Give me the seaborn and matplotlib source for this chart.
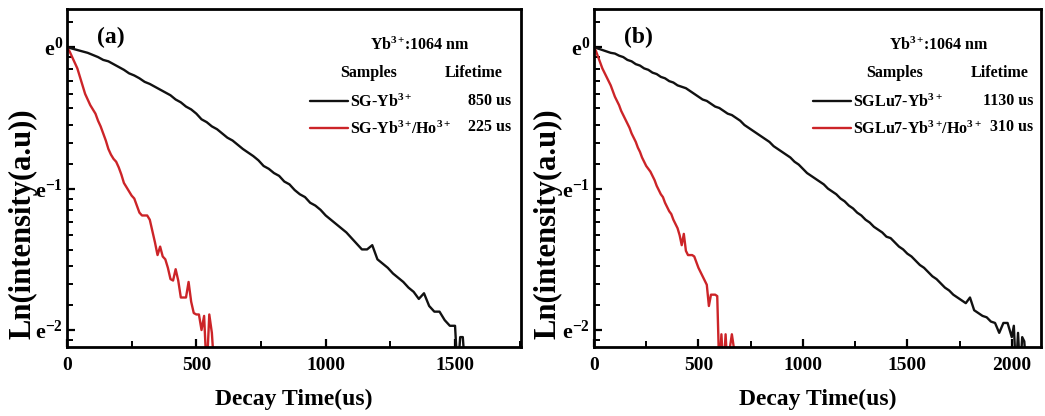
import numpy as np
import pandas as pd
import matplotlib
matplotlib.use("Agg")
import matplotlib.pyplot as plt
from matplotlib.ticker import FixedLocator
import seaborn as sns

# ---------------- data (ln of normalised intensity) ----------------
t_a_black = [0, 20, 40, 60, 80, 100, 120, 140, 160, 180, 200, 220, 240, 260, 280, 300,
             320, 340, 360, 380, 400, 420, 440, 460, 480, 500, 520, 540, 560, 580, 600,
             620, 640, 660, 680, 700, 720, 740, 760, 780, 800, 820, 840, 860, 880, 900,
             920, 940, 960, 980, 1000, 1020, 1040, 1060, 1080, 1100, 1120, 1140, 1160,
             1180, 1200, 1220, 1240, 1260, 1280, 1300, 1320, 1340, 1360, 1380, 1400,
             1420, 1440, 1460, 1480, 1500, 1510, 1520, 1530, 1540]
y_a_black = [0.00, -0.01, -0.02, -0.03, -0.04, -0.055, -0.07, -0.09, -0.10, -0.12, -0.14,
             -0.16, -0.185, -0.20, -0.22, -0.245, -0.26, -0.28, -0.30, -0.32, -0.34, -0.37,
             -0.39, -0.42, -0.44, -0.47, -0.51, -0.53, -0.56, -0.58, -0.61, -0.64, -0.66,
             -0.69, -0.72, -0.745, -0.77, -0.80, -0.84, -0.86, -0.89, -0.91, -0.95, -0.97,
             -1.01, -1.04, -1.06, -1.10, -1.12, -1.15, -1.19, -1.22, -1.25, -1.28, -1.31,
             -1.35, -1.39, -1.43, -1.43, -1.40, -1.50, -1.53, -1.56, -1.60, -1.63, -1.66,
             -1.70, -1.73, -1.78, -1.74, -1.83, -1.87, -1.87, -1.93, -1.97, -1.97, -2.30,
             -2.05, -2.05, -2.30]

t_a_red = [0, 10, 20, 30, 40, 50, 60, 70, 80, 90, 100, 110, 120, 130, 140, 150, 160, 170,
           180, 190, 200, 210, 220, 230, 240, 250, 260, 270, 280, 290, 300, 310, 320, 330,
           340, 350, 360, 370, 380, 390, 400, 410, 420, 430, 440, 450, 460, 470, 480, 490,
           500, 510, 520, 530, 540, 550, 560, 570]
y_a_red = [0.00, -0.03, -0.07, -0.11, -0.15, -0.21, -0.27, -0.33, -0.37, -0.41, -0.44,
           -0.47, -0.52, -0.56, -0.61, -0.66, -0.72, -0.76, -0.79, -0.81, -0.85, -0.90,
           -0.96, -0.99, -1.02, -1.05, -1.07, -1.12, -1.17, -1.19, -1.19, -1.19, -1.22,
           -1.30, -1.38, -1.47, -1.41, -1.48, -1.50, -1.56, -1.64, -1.65, -1.57, -1.65,
           -1.77, -1.77, -1.77, -1.66, -1.80, -1.88, -1.89, -1.89, -2.00, -1.90, -2.30,
           -1.89, -2.02, -2.30]

t_b_black = [0, 20, 40, 60, 80, 100, 120, 140, 160, 180, 200, 220, 240, 260, 280, 300,
             320, 340, 360, 380, 400, 420, 440, 460, 480, 500, 520, 540, 560, 580, 600,
             620, 640, 660, 680, 700, 720, 740, 760, 780, 800, 820, 840, 860, 880, 900,
             920, 940, 960, 980, 1000, 1020, 1040, 1060, 1080, 1100, 1120, 1140, 1160,
             1180, 1200, 1220, 1240, 1260, 1280, 1300, 1320, 1340, 1360, 1380, 1400,
             1420, 1440, 1460, 1480, 1500, 1520, 1540, 1560, 1580, 1600, 1620, 1640,
             1660, 1680, 1700, 1720, 1740, 1760, 1780, 1800, 1820, 1840, 1860, 1880,
             1900, 1920, 1940, 1960, 1980, 2000, 2010, 2020, 2030, 2040, 2050, 2060,
             2070, 2080]
y_b_black = [0.00, -0.01, -0.02, -0.03, -0.04, -0.045, -0.06, -0.07, -0.09, -0.10, -0.12,
             -0.13, -0.15, -0.16, -0.18, -0.19, -0.21, -0.22, -0.24, -0.25, -0.27, -0.28,
             -0.29, -0.31, -0.33, -0.35, -0.37, -0.38, -0.40, -0.42, -0.43, -0.45, -0.47,
             -0.48, -0.50, -0.52, -0.55, -0.57, -0.59, -0.61, -0.63, -0.65, -0.67, -0.70,
             -0.72, -0.74, -0.76, -0.78, -0.81, -0.83, -0.86, -0.89, -0.91, -0.93, -0.95,
             -0.97, -1.00, -1.02, -1.04, -1.07, -1.09, -1.12, -1.14, -1.17, -1.19, -1.22,
             -1.24, -1.27, -1.29, -1.31, -1.34, -1.35, -1.38, -1.41, -1.43, -1.46, -1.48,
             -1.51, -1.54, -1.56, -1.59, -1.62, -1.64, -1.67, -1.70, -1.72, -1.75, -1.77,
             -1.79, -1.81, -1.77, -1.86, -1.88, -1.90, -1.91, -1.94, -1.95, -2.02, -1.95,
             -1.95, -2.05, -1.97, -2.30, -2.02, -2.30, -2.05, -2.08, -2.30, -2.30]

t_b_red = [0, 10, 20, 30, 40, 50, 60, 70, 80, 90, 100, 110, 120, 130, 140, 150, 160, 170,
           180, 190, 200, 210, 220, 230, 240, 250, 260, 270, 280, 290, 300, 310, 320, 330,
           340, 350, 360, 370, 380, 390, 400, 410, 420, 430, 440, 450, 460, 470, 480, 490,
           500, 510, 520, 530, 540, 550, 560, 570, 580, 590, 600, 610, 620, 630, 640, 650,
           660, 670, 680, 690, 700]
y_b_red = [0.00, -0.03, -0.07, -0.11, -0.15, -0.18, -0.21, -0.24, -0.27, -0.31, -0.35,
           -0.38, -0.41, -0.45, -0.48, -0.51, -0.54, -0.57, -0.61, -0.64, -0.67, -0.71,
           -0.74, -0.78, -0.81, -0.84, -0.86, -0.88, -0.91, -0.94, -0.98, -1.01, -1.04,
           -1.06, -1.10, -1.13, -1.16, -1.18, -1.22, -1.25, -1.28, -1.33, -1.40, -1.32,
           -1.44, -1.47, -1.47, -1.47, -1.48, -1.52, -1.56, -1.59, -1.62, -1.65, -1.68,
           -1.83, -1.75, -1.75, -1.75, -1.76, -2.30, -2.03, -2.30, -2.03, -2.30, -2.13,
           -2.03, -2.13, -2.13, -2.13, -2.13]

panel_tags = ["(a)", "(b)"]
series_labels = [[r"SG-Yb$^{3+}\!$", r"SG-Yb$^{3+}\!$/Ho$^{3+}$"],
                 [r"SGLu7-Yb$^{3+}\!$", r"SGLu7-Yb$^{3+}\!$/Ho$^{3+}$"]]
lifetimes = [["850 us", "225 us"], ["1130 us", "310 us"]]
x_majors = [[0, 500, 1000, 1500], [0, 500, 1000, 1500, 2000]]
y_majors = [0, -1, -2]
y_ticklabels = ["e$^{0}$", "e$^{-1}$", "e$^{-2}$"]
header_text = r"Yb$^{3+}\!$:1064 nm"

# ---------------- style ----------------
sns.set_theme(style="ticks")
plt.rcParams.update({
    "font.family": ["Liberation Serif", "DejaVu Serif"],
    "font.weight": "bold",
    "axes.labelweight": "bold",
    "mathtext.fontset": "custom",
    "mathtext.rm": "Liberation Serif:bold",
    "mathtext.it": "Liberation Serif:bold:italic",
    "mathtext.bf": "Liberation Serif:bold",
    "mathtext.default": "rm",
    "axes.linewidth": 2.0,
    "axes.edgecolor": "black",
    "axes.labelcolor": "black",
    "text.color": "black",
    "xtick.color": "black",
    "ytick.color": "black",
    "xtick.labelcolor": "black",
    "ytick.labelcolor": "black",
})

BLACK = "#111111"
RED = "#cc2428"

fig = plt.figure(figsize=(10.45, 4.16), dpi=100)
W, H = 1045, 416
axes_px = [(67, 9, 521, 347), (594, 9, 1041, 347)]
xlims = [(0, 1755), (0, 2140)]
data = [((t_a_black, y_a_black), (t_a_red, y_a_red)),
        ((t_b_black, y_b_black), (t_b_red, y_b_red))]
leg_x = [(310 - 67) / 454, (813 - 594) / 447]
ylab_x = [(23 - 67) / 454, (548 - 594) / 447]
txt_pos = [dict(head=0.777, samp=0.665, life=0.896, val=0.978, tag=0.097),
           dict(head=0.772, samp=0.673, life=0.908, val=0.982, tag=0.10)]

# minor ticks in log-e style (linear subdivisions of each e-decade)
minor = []
for n in [-3, -2, -1, 0]:
    for k in range(1, 9):
        minor.append(np.log(np.exp(n) * (1 + k * (np.e - 1) / 9)))
minor = [m for m in minor if -2.12 <= m <= 0.27]

for i in range(2):
    l, tp, r, b = axes_px[i]
    ax = fig.add_axes([l / W, 1 - b / H, (r - l) / W, (b - tp) / H])
    (tb, yb), (tr, yr) = data[i]
    df_b = pd.DataFrame({"t": tb, "y": yb})
    df_r = pd.DataFrame({"t": tr, "y": yr})
    sns.lineplot(data=df_b, x="t", y="y", ax=ax, color=BLACK, lw=1.7,
                 estimator=None, sort=False, label=series_labels[i][0])
    sns.lineplot(data=df_r, x="t", y="y", ax=ax, color=RED, lw=1.7,
                 estimator=None, sort=False, label=series_labels[i][1])
    ax.set_xlim(*xlims[i])
    ax.set_ylim(-2.12, 0.27)
    ax.set_xticks(x_majors[i])
    ax.xaxis.set_minor_locator(FixedLocator([v + 250 for v in x_majors[i]]))
    ax.set_yticks(y_majors)
    ax.set_yticklabels(y_ticklabels)
    ax.yaxis.set_minor_locator(FixedLocator(minor))
    ax.tick_params(axis="both", which="major", direction="in", length=6, width=1.6,
                   top=False, right=False)
    ax.tick_params(axis="both", which="minor", direction="in", length=4, width=1.4,
                   top=False, right=False)
    ax.tick_params(axis="x", labelsize=14, pad=7)
    ax.tick_params(axis="y", labelsize=16, pad=3)
    ax.set_xlabel("Decay Time(us)", fontsize=17, labelpad=11, color="black")
    ax.set_ylabel("Ln(intensity(a.u))", fontsize=22, color="black")
    ax.yaxis.label.set_verticalalignment("center")
    ax.yaxis.set_label_coords(ylab_x[i], 1 - (224 - 9) / 338)
    for s in ax.spines.values():
        s.set_visible(True)
        s.set_linewidth(2.0)
        s.set_color("black")

    p = txt_pos[i]
    fs = 11.5
    ax.text(p["tag"], 0.917, panel_tags[i], transform=ax.transAxes, fontsize=17,
            ha="center", va="center", fontweight="bold", color="black")
    ax.text(p["head"], 0.893, header_text, transform=ax.transAxes, fontsize=fs,
            ha="center", va="center", fontweight="bold", color="black")
    ax.text(p["samp"], 0.811, "Samples", transform=ax.transAxes, fontsize=fs,
            ha="center", va="center", fontweight="bold", color="black")
    ax.text(p["life"], 0.811, "Lifetime", transform=ax.transAxes, fontsize=fs,
            ha="center", va="center", fontweight="bold", color="black")
    ax.text(p["val"], 0.728, lifetimes[i][0], transform=ax.transAxes, fontsize=fs,
            ha="right", va="center", fontweight="bold", color="black")
    ax.text(p["val"], 0.651, lifetimes[i][1], transform=ax.transAxes, fontsize=fs,
            ha="right", va="center", fontweight="bold", color="black")
    leg = ax.legend(loc="upper left", bbox_to_anchor=(leg_x[i], 0.75), frameon=False,
                    prop={"family": "Liberation Serif", "weight": "bold", "size": fs},
                    handlelength=2.4, handletextpad=0.1, labelspacing=0.6,
                    borderpad=0, borderaxespad=0)
    for txt in leg.get_texts():
        txt.set_color("black")

fig.savefig("out.png", dpi=100)
